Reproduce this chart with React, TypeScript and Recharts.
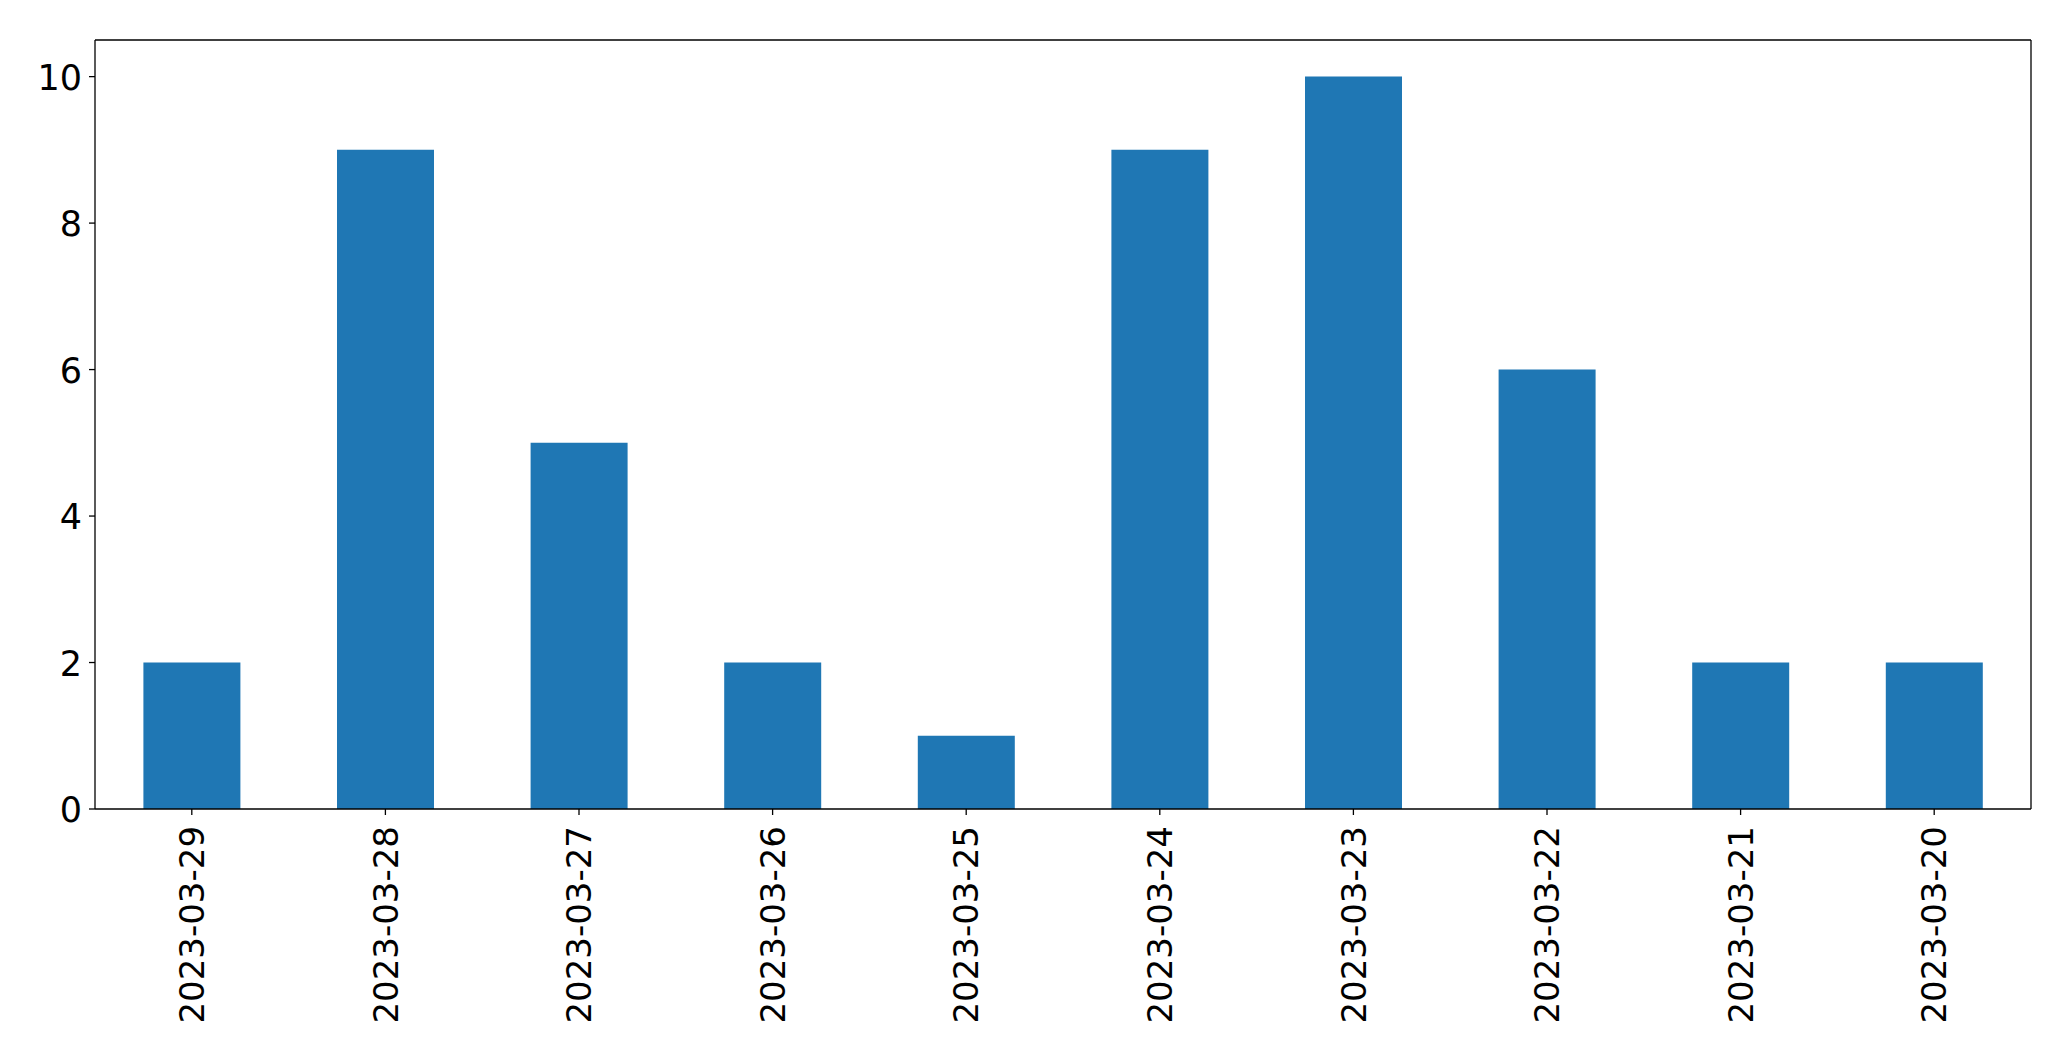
import { BarChart, Bar, XAxis, YAxis, CartesianGrid } from "recharts"

const dates = [
  "2023-03-29",
  "2023-03-28",
  "2023-03-27",
  "2023-03-26",
  "2023-03-25",
  "2023-03-24",
  "2023-03-23",
  "2023-03-22",
  "2023-03-21",
  "2023-03-20",
]
const counts = [2, 9, 5, 2, 1, 9, 10, 6, 2, 2]
const yTicks = [0, 2, 4, 6, 8, 10]

const data = dates.map((date, i) => ({ date, count: counts[i] }))

const FONT = "'DejaVu Sans', sans-serif"

// rotated date labels under the bars
function DateTick({ x, y, payload }: any) {
  return (
    <text
      x={x}
      y={y}
      transform={`rotate(-90 ${x} ${y})`}
      textAnchor="end"
      dy="0.36em"
      fontSize={34}
      fontFamily={FONT}
      fill="#000"
    >
      {payload.value}
    </text>
  )
}

function CountTick({ x, y, payload }: any) {
  return (
    <text
      x={x}
      y={y}
      textAnchor="end"
      dy="0.38em"
      fontSize={35}
      fontFamily={FONT}
      fill="#000"
    >
      {payload.value}
    </text>
  )
}

export default function App() {
  return (
    <div style={{ position: "absolute", left: 0, top: 0, background: "#fff" }}>
      <BarChart
        width={2071}
        height={1061}
        data={data}
        margin={{ top: 40, right: 40, left: 0, bottom: 0 }}
        barCategoryGap="25%"
      >
        {/* top and right edges of the frame */}
        <CartesianGrid
          stroke="#000"
          strokeWidth={1.3}
          horizontalCoordinatesGenerator={({ offset }: any) => [offset.top]}
          verticalCoordinatesGenerator={({ offset }: any) => [offset.left + offset.width]}
        />
        <XAxis
          dataKey="date"
          interval={0}
          height={252}
          tickSize={6}
          tickMargin={11}
          tick={<DateTick />}
          axisLine={{ stroke: "#000", strokeWidth: 1.3 }}
          tickLine={{ stroke: "#000", strokeWidth: 1.3 }}
        />
        <YAxis
          width={95}
          domain={[0, 10.5]}
          ticks={yTicks}
          tickSize={6}
          tickMargin={7}
          tick={<CountTick />}
          axisLine={{ stroke: "#000", strokeWidth: 1.3 }}
          tickLine={{ stroke: "#000", strokeWidth: 1.3 }}
        />
        <Bar dataKey="count" fill="#1f77b4" isAnimationActive={false} />
      </BarChart>
    </div>
  )
}
